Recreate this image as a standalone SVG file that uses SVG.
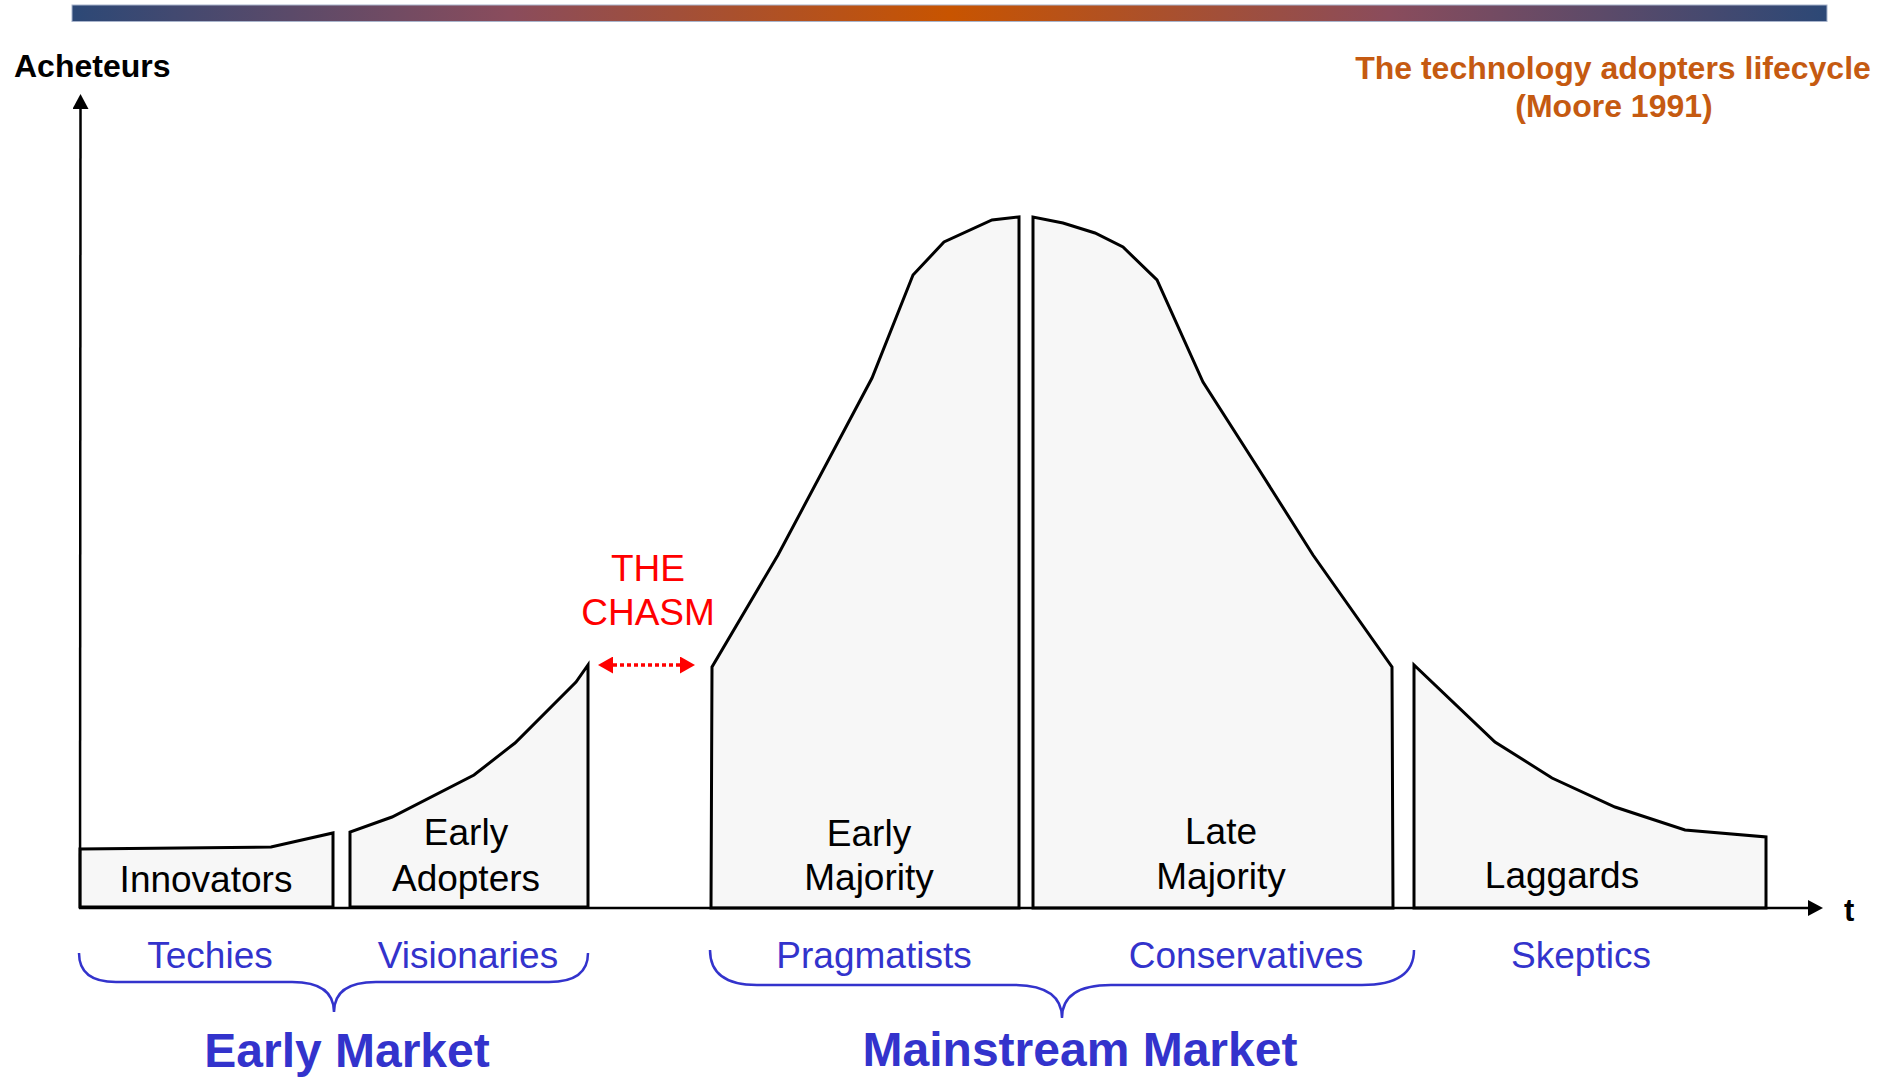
<svg xmlns="http://www.w3.org/2000/svg" width="1893" height="1077" viewBox="0 0 1893 1077">
  <style>
    .seg { fill: #F7F7F7; stroke: #000; stroke-width: 3; stroke-linejoin: miter; }
    .lbl { font-family: "Liberation Sans", Arial, sans-serif; font-size: 37px; fill: #000; text-anchor: middle; }
    .sub { font-family: "Liberation Sans", Arial, sans-serif; font-size: 37px; fill: #3333CC; text-anchor: middle; }
    .mkt { font-family: "Liberation Sans", Arial, sans-serif; font-size: 48px; font-weight: bold; fill: #3333CC; text-anchor: middle; }
    .chasm { font-family: "Liberation Sans", Arial, sans-serif; font-size: 37px; fill: #FF0000; text-anchor: middle; }
    .title { font-family: "Liberation Sans", Arial, sans-serif; font-size: 32px; font-weight: bold; fill: #C55A11; text-anchor: middle; }
    .axis { stroke: #000; stroke-width: 2.5; fill: none; }
    .brace { stroke: #3333CC; stroke-width: 2.5; fill: none; }
  </style>
  <defs>
    <linearGradient id="bar" x1="0" y1="0" x2="1" y2="0">
      <stop offset="0" stop-color="#2C4876"/>
      <stop offset="0.25" stop-color="#8A4C5C"/>
      <stop offset="0.5" stop-color="#C85400"/>
      <stop offset="0.75" stop-color="#8A4C5C"/>
      <stop offset="1" stop-color="#2C4876"/>
    </linearGradient>
    <marker id="axisHead" markerUnits="userSpaceOnUse" markerWidth="16" markerHeight="16" refX="0" refY="8" orient="auto">
      <path d="M0,0 L15,8 L0,16 z" fill="#000"/>
    </marker>
    <marker id="redHead" markerUnits="userSpaceOnUse" markerWidth="16" markerHeight="17" refX="0" refY="8.5" orient="auto-start-reverse">
      <path d="M0,0 L15,8.5 L0,17 z" fill="#FF0000"/>
    </marker>
  </defs>

  <rect x="0" y="0" width="1893" height="1077" fill="#fff"/>

  <!-- top bar -->
  <rect x="72" y="5" width="1755" height="16.5" fill="url(#bar)" stroke="#A8B4CC" stroke-width="1"/>

  <!-- titles -->
  <text x="14" y="77" font-family="Liberation Sans, Arial, sans-serif" font-size="32" font-weight="bold" fill="#000">Acheteurs</text>
  <text class="title" x="1613" y="79">The technology adopters lifecycle</text>
  <text class="title" x="1614" y="117">(Moore 1991)</text>

  <!-- nodes -->
  <g id="innovators">
    <path class="seg" d="M80,907 L80,849 L271,847 L333,833 L333,907 Z"/>
    <text class="lbl" x="206" y="892">Innovators</text>
  </g>
  <g id="early-adopters">
    <path class="seg" d="M350,907 L350,832 L392,817 L474,775 L515,743 L576,682 L588,665 L588,907 Z"/>
    <text class="lbl" x="466" y="845">Early</text>
    <text class="lbl" x="466" y="891">Adopters</text>
  </g>
  <g id="early-majority">
    <path class="seg" d="M711,908 L712,667 L778,555 L872,378 L913,275 L944,242 L992,220 L1019,217 L1019,908 Z"/>
    <text class="lbl" x="869" y="846">Early</text>
    <text class="lbl" x="869" y="890">Majority</text>
  </g>
  <g id="late-majority">
    <path class="seg" d="M1033,908 L1033,217 L1063,223 L1095,233 L1123,247 L1157,280 L1203,382 L1258,468 L1313,555 L1392,667 L1393,908 Z"/>
    <text class="lbl" x="1221" y="844">Late</text>
    <text class="lbl" x="1221" y="889">Majority</text>
  </g>
  <g id="laggards">
    <path class="seg" d="M1414,908 L1414,665 L1495,742 L1552,778 L1615,807 L1685,830 L1766,837 L1766,908 Z"/>
    <text class="lbl" x="1562" y="888">Laggards</text>
  </g>

  <g id="chasm">
    <text class="chasm" x="648" y="581">THE</text>
    <text class="chasm" x="648" y="625">CHASM</text>
  </g>

  <!-- connectors -->
  <g id="connectors">
    <line class="axis" x1="80" y1="908" x2="80.5" y2="109" marker-end="url(#axisHead)"/>
    <line class="axis" x1="79" y1="908" x2="1808" y2="908" marker-end="url(#axisHead)"/>
    <line x1="613" y1="665" x2="680" y2="665" stroke="#FF0000" stroke-width="3.5" stroke-dasharray="4 3" marker-start="url(#redHead)" marker-end="url(#redHead)"/>
    <path class="brace" d="M79,953 Q79,982 116,982 L292,982 Q334,982 334,1012 Q334,982 376,982 L549,982 Q588,982 588,953"/>
    <path class="brace" d="M710,950 Q710,985 757,985 L1013,985 Q1062,985 1062,1018 Q1062,985 1111,985 L1362,985 Q1414,985 1414,950"/>
  </g>

  <text x="1844" y="921" font-family="Liberation Sans, Arial, sans-serif" font-size="31" font-weight="bold" fill="#000">t</text>

  <g id="labels">
    <text class="sub" x="210" y="968">Techies</text>
    <text class="sub" x="468" y="968">Visionaries</text>
    <text class="sub" x="874" y="968">Pragmatists</text>
    <text class="sub" x="1246" y="968">Conservatives</text>
    <text class="sub" x="1581" y="968">Skeptics</text>
    <text class="mkt" x="347" y="1067">Early Market</text>
    <text class="mkt" x="1080" y="1066">Mainstream Market</text>
  </g>
</svg>
